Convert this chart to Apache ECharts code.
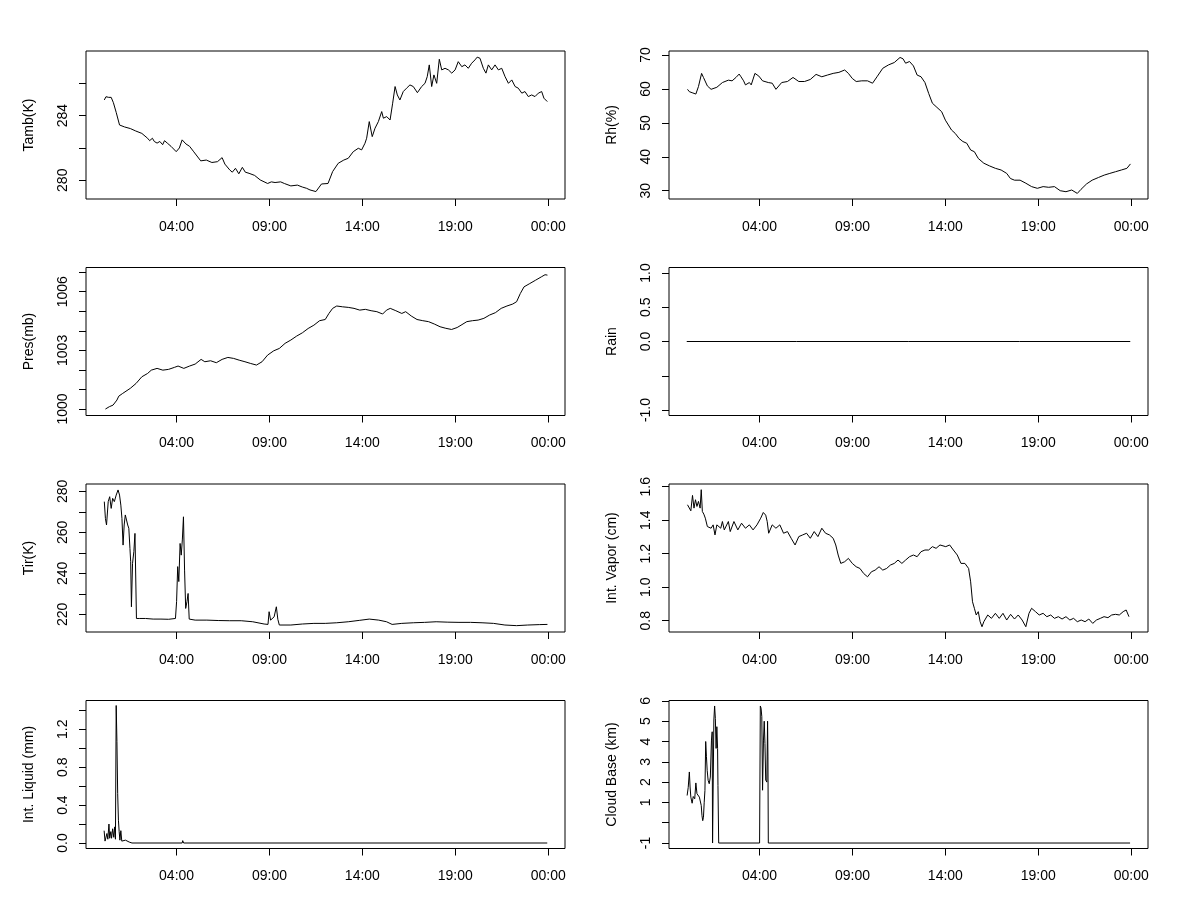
<!DOCTYPE html>
<html>
<head>
<meta charset="utf-8">
<script src="https://cdn.jsdelivr.net/npm/echarts@6/dist/echarts.min.js"></script>
<style>
html,body{margin:0;padding:0;background:#ffffff;}
#chart{width:1200px;height:900px;}
</style>
</head>
<body>
<div id="chart"></div>
<script>
// ---------- shared x axis (hours of day) ----------
const xTickHours = [4, 9, 14, 19, 24];
const xTickLabels = ['04:00', '09:00', '14:00', '19:00', '00:00'];

// ---------- series: [hour, value] ----------
const tamb = [[0.11,284.97],[0.2,285.17],[0.35,285.13],[0.48,285.13],[0.6,284.8],[0.75,284.2],[0.93,283.42],[1.2,283.3],[1.51,283.2],[1.8,283.05],[2.13,282.9],[2.44,282.6],[2.55,282.45],[2.7,282.6],[2.8,282.4],[2.95,282.3],[3.1,282.4],[3.25,282.2],[3.35,282.45],[3.5,282.3],[3.7,282.1],[3.98,281.77],[4.15,282.0],[4.3,282.5],[4.5,282.25],[4.7,282.1],[4.9,281.8],[5.1,281.5],[5.3,281.2],[5.6,281.25],[5.9,281.1],[6.2,281.15],[6.45,281.4],[6.6,281.0],[6.86,280.64],[7.0,280.5],[7.17,280.74],[7.35,280.4],[7.54,280.8],[7.7,280.5],[7.9,280.43],[8.2,280.3],[8.5,280.02],[8.9,279.8],[9.1,279.9],[9.3,279.86],[9.6,279.9],[9.8,279.8],[10.15,279.65],[10.5,279.7],[10.77,279.58],[11.0,279.5],[11.18,279.4],[11.5,279.3],[11.8,279.77],[12.15,279.8],[12.4,280.54],[12.7,281.05],[13.0,281.25],[13.24,281.36],[13.51,281.77],[13.78,281.98],[13.96,281.88],[14.14,282.29],[14.23,282.6],[14.37,283.63],[14.53,282.7],[14.68,283.22],[14.86,283.63],[15.04,284.25],[15.13,283.84],[15.31,283.94],[15.49,283.73],[15.63,284.77],[15.76,285.8],[15.88,285.28],[16.02,284.97],[16.2,285.49],[16.38,285.7],[16.56,285.9],[16.74,285.8],[16.96,285.42],[17.19,285.8],[17.37,286.0],[17.49,286.41],[17.6,287.14],[17.73,285.8],[17.85,286.52],[18.0,286.0],[18.14,287.49],[18.27,286.83],[18.45,286.93],[18.63,286.83],[18.81,286.63],[18.99,286.83],[19.16,287.34],[19.35,287.03],[19.52,287.14],[19.7,286.93],[19.88,287.24],[20.06,287.45],[20.18,287.62],[20.33,287.55],[20.51,286.93],[20.65,286.63],[20.78,287.14],[20.96,286.83],[21.14,287.14],[21.32,286.83],[21.5,286.93],[21.68,286.41],[21.86,286.0],[22.04,286.21],[22.22,285.8],[22.39,285.7],[22.58,285.39],[22.75,285.49],[22.93,285.18],[23.11,285.28],[23.29,285.18],[23.47,285.39],[23.65,285.49],[23.77,285.08],[23.95,284.87]];

const rh = [[0.12,59.9],[0.22,59.2],[0.37,58.9],[0.57,58.5],[0.71,60.7],[0.88,64.6],[0.98,63.4],[1.19,60.9],[1.39,59.9],[1.7,60.5],[2.0,61.9],[2.32,62.6],[2.52,62.4],[2.73,63.4],[2.9,64.4],[3.0,63.6],[3.14,62.4],[3.24,61.2],[3.45,61.9],[3.55,61.2],[3.75,64.6],[3.96,63.8],[4.16,62.4],[4.47,61.9],[4.68,61.7],[4.88,59.9],[5.19,61.9],[5.5,62.2],[5.8,63.4],[6.11,62.2],[6.42,62.2],[6.73,62.8],[7.04,64.3],[7.35,63.6],[7.65,64.1],[7.96,64.6],[8.27,64.9],[8.58,65.6],[8.78,64.6],[8.99,63.1],[9.2,62.2],[9.5,62.4],[9.81,62.4],[10.08,61.7],[10.32,63.6],[10.63,66.1],[10.94,67.1],[11.25,67.8],[11.56,69.3],[11.72,68.9],[11.86,67.6],[12.07,68.1],[12.28,66.8],[12.48,64.1],[12.69,63.6],[12.9,61.9],[13.1,58.7],[13.3,55.8],[13.5,54.8],[13.8,53.3],[14.0,50.8],[14.33,47.9],[14.53,46.9],[14.74,45.4],[14.94,44.5],[15.15,44.0],[15.36,42.0],[15.56,41.5],[15.77,39.5],[16.07,38.1],[16.38,37.3],[16.69,36.6],[17.0,36.1],[17.3,35.1],[17.5,33.6],[17.72,33.1],[18.02,33.1],[18.33,32.2],[18.64,31.2],[18.95,30.7],[19.26,31.2],[19.56,31.0],[19.87,31.2],[20.18,30.0],[20.49,29.7],[20.8,30.2],[21.1,29.2],[21.3,30.4],[21.6,32.0],[21.9,33.1],[22.24,33.9],[22.55,34.6],[22.85,35.1],[23.16,35.6],[23.47,36.1],[23.77,36.6],[23.96,37.9]];

const pres = [[0.17,1000.0],[0.38,1000.12],[0.58,1000.2],[0.79,1000.46],[0.89,1000.66],[1.1,1000.8],[1.51,1001.06],[1.82,1001.31],[2.13,1001.65],[2.44,1001.82],[2.64,1001.99],[2.95,1002.08],[3.26,1001.99],[3.57,1002.03],[3.88,1002.13],[4.08,1002.2],[4.39,1002.08],[4.7,1002.2],[5.0,1002.3],[5.32,1002.54],[5.52,1002.42],[5.83,1002.47],[6.14,1002.37],[6.45,1002.54],[6.76,1002.64],[7.07,1002.59],[7.37,1002.5],[7.68,1002.42],[7.99,1002.33],[8.3,1002.25],[8.6,1002.42],[8.9,1002.76],[9.23,1002.98],[9.53,1003.1],[9.84,1003.36],[10.15,1003.53],[10.46,1003.73],[10.77,1003.9],[11.08,1004.12],[11.39,1004.29],[11.7,1004.52],[12.0,1004.58],[12.2,1004.89],[12.4,1005.15],[12.62,1005.27],[12.93,1005.23],[13.24,1005.2],[13.55,1005.15],[13.86,1005.06],[14.16,1005.1],[14.47,1005.03],[14.78,1004.98],[15.09,1004.86],[15.3,1005.06],[15.5,1005.15],[15.8,1005.03],[16.12,1004.89],[16.33,1004.98],[16.63,1004.76],[16.94,1004.58],[17.25,1004.52],[17.56,1004.47],[17.87,1004.35],[18.18,1004.21],[18.49,1004.13],[18.8,1004.07],[19.1,1004.17],[19.31,1004.29],[19.62,1004.47],[19.93,1004.52],[20.23,1004.55],[20.54,1004.64],[20.85,1004.81],[21.16,1004.93],[21.47,1005.15],[21.78,1005.27],[22.09,1005.37],[22.3,1005.49],[22.5,1005.91],[22.7,1006.25],[23.01,1006.42],[23.32,1006.59],[23.63,1006.76],[23.83,1006.87],[23.96,1006.85]];

const rain = [[0.08,0],[6.0,0],[12.0,0],[18.0,0],[23.95,0]];

const tir = [[0.11,275],[0.17,266.8],[0.23,263.6],[0.32,275],[0.4,277.4],[0.48,271.7],[0.56,276.6],[0.65,275],[0.75,278.2],[0.85,280.7],[0.93,278.2],[1.0,273.3],[1.06,266.8],[1.12,253.8],[1.18,263.6],[1.24,268.5],[1.3,267.8],[1.37,263.6],[1.43,262],[1.49,252.2],[1.53,245.7],[1.57,223.7],[1.63,244.9],[1.7,250.6],[1.76,259.5],[1.8,239.2],[1.84,218],[2.02,218],[2.33,218],[2.74,217.7],[3.16,217.7],[3.57,217.6],[3.94,218],[4.0,226.2],[4.06,243.3],[4.12,236],[4.19,254.6],[4.25,248.9],[4.31,256.3],[4.37,267.6],[4.43,241.6],[4.49,222.9],[4.56,226.2],[4.62,230.2],[4.68,217.7],[5.0,217.2],[5.63,217.2],[6.24,217.0],[6.86,216.9],[7.48,216.9],[8.1,216.4],[8.71,215.3],[8.92,215.1],[8.98,221.3],[9.06,217.2],[9.16,216.4],[9.25,218.8],[9.33,219.5],[9.37,223.7],[9.45,217.6],[9.53,214.8],[10.15,214.8],[10.77,215.3],[11.39,215.6],[12.0,215.6],[12.62,215.9],[13.24,216.4],[13.86,217.1],[14.37,217.7],[14.88,217.2],[15.3,216.4],[15.6,215.1],[16.12,215.6],[16.74,215.9],[17.35,216.1],[17.97,216.4],[18.6,216.2],[19.2,216.1],[19.82,216.1],[20.44,215.9],[21.06,215.6],[21.67,214.8],[22.3,214.5],[22.9,214.8],[23.52,215.0],[23.96,215.1]];

const vapor = [[0.12,1.492],[0.22,1.482],[0.3,1.456],[0.39,1.548],[0.47,1.472],[0.55,1.522],[0.63,1.482],[0.71,1.512],[0.8,1.472],[0.86,1.582],[0.92,1.452],[1.0,1.436],[1.08,1.412],[1.19,1.362],[1.29,1.372],[1.39,1.352],[1.5,1.372],[1.6,1.312],[1.7,1.372],[1.91,1.352],[2.0,1.392],[2.1,1.342],[2.32,1.392],[2.42,1.332],[2.62,1.392],[2.83,1.342],[3.03,1.382],[3.24,1.352],[3.45,1.372],[3.65,1.342],[3.86,1.372],[4.06,1.412],[4.2,1.446],[4.33,1.43],[4.41,1.392],[4.49,1.322],[4.68,1.372],[4.88,1.352],[5.09,1.372],[5.29,1.322],[5.5,1.332],[5.7,1.292],[5.91,1.252],[6.11,1.302],[6.32,1.312],[6.53,1.322],[6.73,1.292],[6.94,1.332],[7.14,1.302],[7.35,1.352],[7.55,1.322],[7.76,1.312],[7.96,1.292],[8.1,1.252],[8.23,1.192],[8.37,1.142],[8.58,1.152],[8.78,1.172],[8.99,1.142],[9.2,1.122],[9.4,1.112],[9.6,1.082],[9.81,1.062],[10.02,1.092],[10.22,1.102],[10.43,1.122],[10.63,1.102],[10.84,1.112],[11.04,1.132],[11.25,1.142],[11.45,1.162],[11.66,1.142],[11.86,1.162],[12.07,1.182],[12.28,1.192],[12.48,1.182],[12.69,1.212],[12.9,1.222],[13.1,1.222],[13.3,1.242],[13.5,1.232],[13.71,1.252],[13.8,1.262],[14.02,1.242],[14.23,1.252],[14.43,1.222],[14.64,1.192],[14.84,1.142],[15.05,1.142],[15.25,1.112],[15.36,1.032],[15.46,0.913],[15.56,0.874],[15.66,0.834],[15.77,0.854],[15.87,0.794],[15.97,0.764],[16.07,0.794],[16.28,0.834],[16.48,0.814],[16.69,0.844],[16.9,0.814],[17.1,0.844],[17.3,0.804],[17.51,0.838],[17.72,0.81],[17.92,0.834],[18.13,0.804],[18.33,0.764],[18.5,0.844],[18.64,0.874],[18.85,0.854],[19.05,0.834],[19.26,0.844],[19.46,0.824],[19.67,0.834],[19.87,0.814],[20.08,0.824],[20.28,0.81],[20.49,0.824],[20.7,0.804],[20.9,0.814],[21.1,0.794],[21.31,0.804],[21.52,0.794],[21.72,0.81],[21.93,0.784],[22.13,0.804],[22.34,0.814],[22.54,0.824],[22.75,0.818],[22.95,0.834],[23.16,0.838],[23.36,0.834],[23.57,0.854],[23.73,0.864],[23.88,0.824]];

const liquid = [[0.1,0.13],[0.15,0.02],[0.2,0.015],[0.25,0.1],[0.3,0.04],[0.36,0.2],[0.4,0.05],[0.46,0.12],[0.5,0.05],[0.56,0.15],[0.62,0.06],[0.67,0.17],[0.71,0.04],[0.75,1.45],[0.79,1.07],[0.83,0.52],[0.87,0.24],[0.91,0.12],[0.95,0.03],[1.0,0.13],[1.05,0.02],[1.15,0.01],[1.25,0.03],[1.35,0.035],[1.45,0.01],[1.6,0.0],[4.3,0.0],[4.33,0.025],[4.38,0.0],[23.95,0.0]];

const cloudBase = [[0.1,1.34],[0.16,1.74],[0.22,2.5],[0.26,1.76],[0.3,1.26],[0.37,0.96],[0.43,1.29],[0.51,1.18],[0.57,1.96],[0.63,1.43],[0.69,1.51],[0.76,1.26],[0.82,1.34],[0.86,0.85],[0.9,0.35],[0.94,0.1],[0.98,0.27],[1.02,1.01],[1.06,1.59],[1.1,4.0],[1.14,3.25],[1.18,2.58],[1.23,2.09],[1.29,1.92],[1.35,2.25],[1.41,4.07],[1.45,4.48],[1.47,-1],[1.51,-1],[1.54,5.06],[1.58,5.75],[1.62,5.14],[1.66,3.66],[1.7,4.73],[1.74,3.66],[1.76,1.84],[1.8,-1],[4.0,-1],[4.04,5.75],[4.08,5.64],[4.12,5.22],[4.16,1.6],[4.21,4.07],[4.25,5.0],[4.29,3.9],[4.33,2.1],[4.39,2.0],[4.43,5.0],[4.45,3.24],[4.47,-1],[23.94,-1]];

// ---------- y tick marks and labels ----------
const tambYTicks = [280, 282, 284, 286];
const tambYLabelVals = [280, 284];
const tambYLabels = ['280', '284'];
const rhYTicks = [30, 40, 50, 60, 70];
const rhYLabelVals = [30, 40, 50, 60, 70];
const rhYLabels = ['30', '40', '50', '60', '70'];
const presYTicks = [1000, 1001, 1002, 1003, 1004, 1005, 1006, 1007];
const presYLabelVals = [1000, 1003, 1006];
const presYLabels = ['1000', '1003', '1006'];
const rainYTicks = [-1, -0.5, 0, 0.5, 1];
const rainYLabelVals = [-1, 0, 0.5, 1];
const rainYLabels = ['-1.0', '0.0', '0.5', '1.0'];
const tirYTicks = [220, 230, 240, 250, 260, 270, 280];
const tirYLabelVals = [220, 240, 260, 280];
const tirYLabels = ['220', '240', '260', '280'];
const vaporYTicks = [0.8, 1.0, 1.2, 1.4, 1.6];
const vaporYLabelVals = [0.8, 1.0, 1.2, 1.4, 1.6];
const vaporYLabels = ['0.8', '1.0', '1.2', '1.4', '1.6'];
const liquidYTicks = [0, 0.2, 0.4, 0.6, 0.8, 1.0, 1.2, 1.4];
const liquidYLabelVals = [0, 0.4, 0.8, 1.2];
const liquidYLabels = ['0.0', '0.4', '0.8', '1.2'];
const cloudYTicks = [-1, 0, 1, 2, 3, 4, 5, 6];
const cloudYLabelVals = [-1, 1, 2, 3, 4, 5, 6];
const cloudYLabels = ['-1', '1', '2', '3', '4', '5', '6'];

// ---------- panel layout ----------
const X_MIN = -0.875, X_MAX = 24.905;
const COL_LEFT = [86, 669];
const ROW_TOP = [51, 267.5, 484, 700.5];
const PANEL_W = 479, PANEL_H = 148;
const FONT = 'Liberation Sans, Arial, sans-serif';
const FS = 14;

const panels = [
  {name: 'Tamb(K)', data: tamb, yMin: 278.84, yMax: 288.0, ticks: tambYTicks, lv: tambYLabelVals, lt: tambYLabels, col: 0, row: 0},
  {name: 'Rh(%)', data: rh, yMin: 27.55, yMax: 71.2, ticks: rhYTicks, lv: rhYLabelVals, lt: rhYLabels, col: 1, row: 0},
  {name: 'Pres(mb)', data: pres, yMin: 999.67, yMax: 1007.24, ticks: presYTicks, lv: presYLabelVals, lt: presYLabels, col: 0, row: 1},
  {name: 'Rain', data: rain, yMin: -1.08, yMax: 1.08, ticks: rainYTicks, lv: rainYLabelVals, lt: rainYLabels, col: 1, row: 1},
  {name: 'Tir(K)', data: tir, yMin: 211.4, yMax: 283.6, ticks: tirYTicks, lv: tirYLabelVals, lt: tirYLabels, col: 0, row: 2},
  {name: 'Int. Vapor (cm)', data: vapor, yMin: 0.7325, yMax: 1.616, ticks: vaporYTicks, lv: vaporYLabelVals, lt: vaporYLabels, col: 1, row: 2},
  {name: 'Int. Liquid (mm)', data: liquid, yMin: -0.058, yMax: 1.503, ticks: liquidYTicks, lv: liquidYLabelVals, lt: liquidYLabels, col: 0, row: 3},
  {name: 'Cloud Base (km)', data: cloudBase, yMin: -1.27, yMax: 6.02, ticks: cloudYTicks, lv: cloudYLabelVals, lt: cloudYLabels, col: 1, row: 3}
];

function lookup(vals, texts, v) {
  for (let i = 0; i < vals.length; i++) {
    if (Math.abs(vals[i] - v) < 1e-6) return texts[i];
  }
  return '';
}

const grids = [], xAxes = [], yAxes = [], series = [];
panels.forEach((p, i) => {
  grids.push({
    left: COL_LEFT[p.col], top: ROW_TOP[p.row], width: PANEL_W, height: PANEL_H,
    show: true, borderColor: '#000', borderWidth: 1, backgroundColor: 'transparent',
    containLabel: false
  });
  xAxes.push({
    gridIndex: i, type: 'value', min: X_MIN, max: X_MAX,
    axisLine: {show: false, onZero: false},
    splitLine: {show: false},
    axisTick: {show: true, inside: false, length: 7, customValues: xTickHours, lineStyle: {color: '#000', width: 1}},
    axisLabel: {
      show: true, customValues: xTickHours, margin: 21,
      color: '#000', fontSize: FS, fontFamily: FONT,
      formatter: v => lookup(xTickHours, xTickLabels, v)
    }
  });
  yAxes.push({
    gridIndex: i, type: 'value', min: p.yMin, max: p.yMax,
    name: p.name, nameLocation: 'middle', nameGap: 50,
    nameTextStyle: {color: '#000', fontSize: FS, fontFamily: FONT},
    axisLine: {show: false, onZero: false},
    splitLine: {show: false},
    axisTick: {show: true, inside: false, length: 7, customValues: p.ticks, lineStyle: {color: '#000', width: 1}},
    axisLabel: {
      show: true, customValues: p.lv, rotate: 90, margin: 16,
      color: '#000', fontSize: FS, fontFamily: FONT,
      formatter: v => lookup(p.lv, p.lt, v)
    }
  });
  series.push({
    type: 'line', xAxisIndex: i, yAxisIndex: i, data: p.data,
    showSymbol: false, symbol: 'none', silent: true, clip: true,
    lineStyle: {color: '#000', width: 1}
  });
});

const chart = echarts.init(document.getElementById('chart'), null, {renderer: 'canvas'});
chart.setOption({
  backgroundColor: '#ffffff',
  animation: false,
  grid: grids, xAxis: xAxes, yAxis: yAxes, series: series
});
</script>
</body>
</html>
